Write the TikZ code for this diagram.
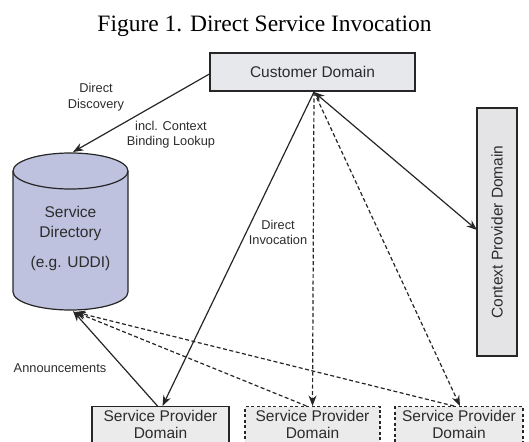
\documentclass[tikz,border=0pt]{standalone}
\usepackage{fontspec}
\setmainfont{Liberation Serif}
\setsansfont{Liberation Sans}
\usetikzlibrary{arrows.meta,calc}

\definecolor{inkline}{HTML}{262626}
\definecolor{inktext}{HTML}{2C2C2C}
\definecolor{boxgray}{HTML}{E7E8EC}
\definecolor{sidegray}{HTML}{E4E4E6}
\definecolor{provgray}{HTML}{EBEBEC}
\definecolor{dirblue}{HTML}{BEC2DF}

\tikzset{
  domainbox/.style={draw=inkline, line width=1.2pt, fill=boxgray, inner sep=0pt,
    font=\sffamily\fontsize{15.5}{16.5}\selectfont, text=inktext, align=center},
  dashbox/.style={domainbox, dashed, dash pattern=on 3pt off 2.5pt, fill=provgray},
  lbl/.style={font=\sffamily\fontsize{12.8}{15}\selectfont, text=inktext, align=center, inner sep=0pt},
  conn/.style={draw=inkline, line width=1.2pt, -{Stealth[length=10.5pt,width=8pt]}},
  dconn/.style={conn, dash pattern=on 4pt off 2.5pt},
  bconn/.style={draw=inkline, line width=1.2pt, {Stealth[length=10.5pt,width=8pt]}-{Stealth[length=10.5pt,width=8pt]}}
}

\begin{document}
\begin{tikzpicture}[x=1pt, y=-1pt]
  \useasboundingbox (0,0) rectangle (529,441);
  \clip (0,0) rectangle (529,441);

  % caption
  \node[anchor=base, inner sep=0pt, font=\fontsize{23.5}{27}\selectfont] (title)
    at (264.5,32) {Figure 1. Direct Service Invocation};

  % customer domain
  \node[domainbox, minimum width=205pt, minimum height=38pt] (cust) at (312.5,72) {Customer Domain};
  \coordinate (hub) at (314,92);

  % service directory cylinder
  \fill[dirblue] (13,171) -- (13,292)
    arc[start angle=180, end angle=360, x radius=57.5pt, y radius=18pt] -- (128,171) -- cycle;
  \draw[inkline, line width=1.2pt, fill=dirblue] (70.5,171) ellipse [x radius=57.5pt, y radius=18pt];
  \draw[inkline, line width=1.2pt] (13,171) -- (13,292)
    arc[start angle=180, end angle=360, x radius=57.5pt, y radius=18pt] -- (128,171);
  \node[align=center, inner sep=0pt, font=\sffamily\fontsize{15.5}{20}\selectfont, text=inktext]
    (dir) at (70.5,238) {Service\\Directory\\[10pt](e.g. UDDI)};
  \coordinate (dirtop) at (73,152);
  \coordinate (dirbot) at (73,311);
  \coordinate (dirbot2) at (75,312);

  % context provider domain
  \node[domainbox, fill=sidegray, rotate=90, minimum width=248pt, minimum height=40pt] (ctx)
    at (497,232) {Context Provider Domain};
  \coordinate (ctxin) at ($(ctx.center)+(-20,-2)$);

  % service provider domains (running past the lower edge)
  \node[domainbox, fill=provgray, minimum width=137pt, minimum height=36pt, anchor=north] (sp1)
    at (160.5,406) {Service Provider\\Domain};
  \node[dashbox, minimum width=135pt, minimum height=36pt, anchor=north] (sp2)
    at (312.5,406) {Service Provider\\Domain};
  \node[dashbox, minimum width=128pt, minimum height=36pt, anchor=north] (sp3)
    at (459,406) {Service Provider\\Domain};
  \draw[inkline, line width=1.2pt] (sp1.south west) -- ++(0,8) (sp1.south east) -- ++(0,8);
  \draw[inkline, line width=1.2pt, dash pattern=on 3pt off 2.5pt]
    (sp2.south west) -- ++(0,8) (sp2.south east) -- ++(0,8)
    (sp3.south west) -- ++(0,8) (sp3.south east) -- ++(0,8);

  % connectors
  \draw[conn] ($(cust.west)+(0,2)$) -- (dirtop);
  \draw[conn] (hub) -- ($(sp1.north)+(2,0)$);
  \draw[dconn] (hub) -- (sp2.north);
  \draw[dconn] (hub) -- ($(sp3.north)+(1,0)$);
  \draw[bconn] (hub) -- (ctxin);
  \draw[conn] ($(sp1.north)+(-3,0)$) -- (dirbot);
  \draw[dconn] ($(sp2.north)+(-6,0)$) -- (dirbot2);
  \draw[dconn] ($(sp3.north)+(-5,0)$) -- (dirbot2);

  % labels
  \node[lbl] (ldisc) at (96,97) {Direct\\[1pt]Discovery};
  \node[lbl] (lbind) at (171,135) {incl. Context\\Binding Lookup};
  \node[lbl] (linv) at (278,232) {Direct\\Invocation};
  \node[lbl] (lann) at (60,368) {Announcements};
\end{tikzpicture}
\end{document}
